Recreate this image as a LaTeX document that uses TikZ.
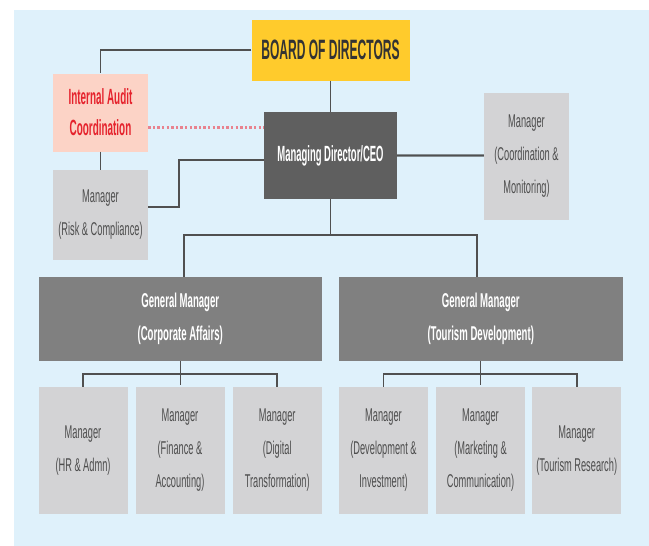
\documentclass[tikz,border=0pt]{standalone}
\usepackage{fontspec}
\setmainfont{Liberation Sans}[FakeStretch=0.5]
\newfontfamily\fboard{Liberation Sans}[FakeStretch=0.43]
\newfontfamily\faudit{Liberation Sans}[FakeStretch=0.45]
\newfontfamily\fgm{Liberation Sans}[FakeStretch=0.48]
\definecolor{bgblue}{HTML}{DFF1FB}
\definecolor{boardyellow}{HTML}{FFCB2C}
\definecolor{auditpink}{HTML}{FCD3C6}
\definecolor{auditred}{HTML}{E5232D}
\definecolor{ceogray}{HTML}{5F5F5F}
\definecolor{gmgray}{HTML}{808080}
\definecolor{boxgray}{HTML}{D3D3D5}
\definecolor{txtgray}{HTML}{4E4E4E}
\definecolor{linegray}{HTML}{505050}
\definecolor{thickgray}{HTML}{848D91}
\definecolor{dotpink}{HTML}{E8838F}
\tikzset{
  box/.style={inner sep=0pt, align=center, anchor=center},
  mgr/.style={box, fill=boxgray, text=txtgray, font=\fontsize{18.5}{33}\selectfont},
  gmbox/.style={box, fill=gmgray, text=white, font=\fgm\bfseries\fontsize{20}{33}\selectfont, minimum width=283.5pt, minimum height=84pt},
  lowbox/.style={mgr, minimum width=89pt, minimum height=127pt},
  conn/.style={draw=linegray, line width=1.8pt},
  thinconn/.style={draw=linegray, line width=1.3pt},
}
\begin{document}
\begin{tikzpicture}[x=1pt,y=-1pt]
\useasboundingbox (0,0) rectangle (649,546);
\fill[bgblue] (14,10) rectangle (649,546);

% top level
\node[box, fill=boardyellow, text=black!80, font=\fboard\bfseries\fontsize{28}{30}\selectfont, minimum width=158pt, minimum height=61pt] (board) at (330.5,50) {BOARD OF DIRECTORS};
\node[box, fill=auditpink, text=auditred, font=\faudit\bfseries\fontsize{22}{31}\selectfont, minimum width=95pt, minimum height=78pt] (audit) at (100.5,112.5) {Internal Audit\\Coordination};
\node[box, fill=ceogray, text=white, font=\fboard\bfseries\fontsize{22}{33}\selectfont, minimum width=133pt, minimum height=87pt] (ceo) at (330.5,155.5) {Managing Director/CEO};
\node[mgr, minimum width=95pt, minimum height=90pt] (risk) at (100.5,215) {Manager\\(Risk \& Compliance)};
\node[mgr, minimum width=85pt, minimum height=127pt] (coord) at (526.5,156.5) {Manager\\(Coordination \&\\Monitoring)};

% general managers
\node[gmbox] (gm1) at (180.25,319) {General Manager\\(Corporate Affairs)};
\node[gmbox] (gm2) at (480.75,319) {General Manager\\(Tourism Development)};

% managers
\node[lowbox] (hr) at (83,450.5) {Manager\\(HR \& Admn)};
\node[lowbox] (fin) at (180,450.5) {Manager\\(Finance \&\\Accounting)};
\node[lowbox] (dig) at (277.25,450.5) {Manager\\(Digital\\Transformation)};
\node[lowbox] (dev) at (383.5,450.5) {Manager\\(Development \&\\Investment)};
\node[lowbox] (mkt) at (480.5,450.5) {Manager\\(Marketing \&\\Communication)};
\node[lowbox] (res) at (576.75,450.5) {Manager\\(Tourism Research)};

% connectors
\draw[conn] (board.west) -| (audit.north);
\draw[thinconn] (board.south) -- (ceo.north);
\draw[thinconn] (audit.south) -- (risk.north);
\draw[dotpink, line width=2.6pt, dash pattern=on 2.3pt off 2.3pt] ([yshift=28pt]audit.east |- ceo.west) -- ([yshift=28pt]ceo.west);
\draw[conn] ([yshift=8pt]risk.east) -- ++(31,0) |- ([yshift=-4.5pt]ceo.west);
\draw[thickgray, line width=3.6pt] (ceo.east) -- (ceo.east -| coord.west);
\draw[linegray, line width=1pt] (ceo.east) -- (ceo.east -| coord.west);

\coordinate (cj) at ([yshift=-36pt]ceo.south);
\draw[thinconn] (ceo.south) -- (cj);
\draw[conn] ([xshift=3.5pt]gm1.north) |- (cj) -| ([xshift=-4pt]gm2.north);

\coordinate (lj) at ([yshift=-13pt]gm1.south);
\draw[thinconn] (gm1.south) -- ([yshift=-24pt]gm1.south);
\draw[conn] (hr.north) |- (lj) -| (dig.north);
\coordinate (rj) at ([yshift=-13pt]gm2.south);
\draw[thinconn] (gm2.south) -- ([yshift=-24pt]gm2.south);
\draw[conn] (dev.north) |- (rj) -| (res.north);
\end{tikzpicture}
\end{document}
